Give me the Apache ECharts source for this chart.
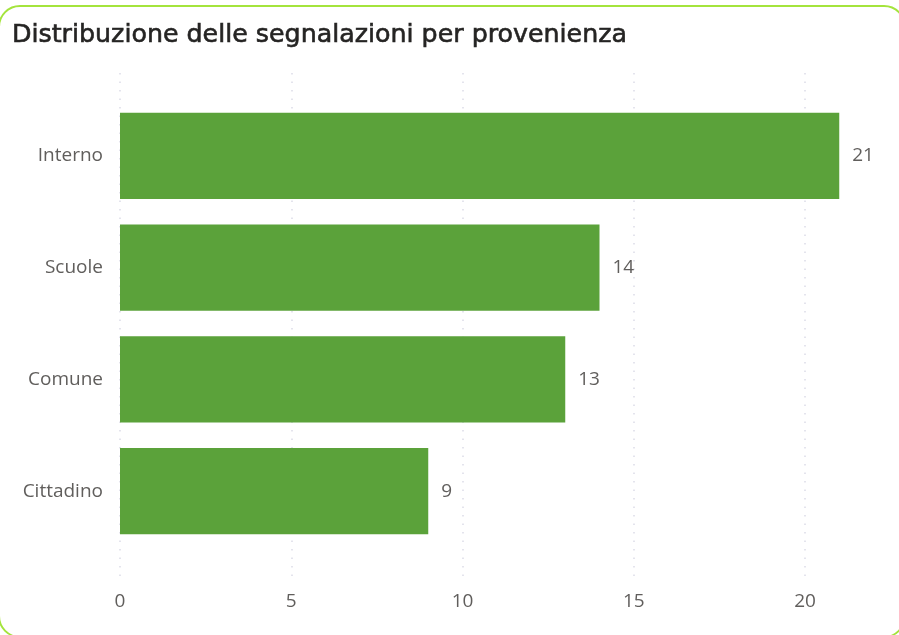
<!DOCTYPE html>
<html>
<head>
<meta charset="utf-8">
<script src="https://cdn.jsdelivr.net/npm/echarts@6/dist/echarts.min.js"></script>
<style>
html,body{margin:0;padding:0;width:899px;height:635px;overflow:hidden;background:#fff;}
#card{position:absolute;left:-2px;top:5px;width:904px;height:629px;border:2px solid #a4e43c;border-radius:22px;}
#chart{position:absolute;left:0;top:0;width:899px;height:635px;}
</style>
</head>
<body>
<div id="card"></div>
<div id="chart"></div>
<script>
const titleText = 'Distribuzione delle segnalazioni per provenienza';
const categories = ['Interno', 'Scuole', 'Comune', 'Cittadino'];
const values = [21, 14, 13, 9];
const barAxisMax = 22;
const tickMin = 0, tickMax = 20, tickInterval = 5;

const chart = echarts.init(document.getElementById('chart'), null, {renderer: 'canvas'});
const labelFont = "'Open Sans', 'Noto Sans', sans-serif";
chart.setOption({
  animation: false,
  title: {
    text: titleText,
    left: 7, top: 18,
    textStyle: {fontFamily: "'DejaVu Sans', sans-serif", fontSize: 25.3, fontWeight: 'normal', color: '#252423',
                textBorderColor: '#252423', textBorderWidth: 0.6}
  },
  grid: [
    {left: 120, right: 25.5, top: 100, bottom: 88},
    {left: 120, right: 94, top: 73, bottom: 53}
  ],
  xAxis: [
    {gridIndex: 0, type: 'value', min: tickMin, max: barAxisMax, show: false, splitLine: {show: false}},
    {gridIndex: 1, type: 'value', min: tickMin, max: tickMax, interval: tickInterval,
     axisLine: {show: false}, axisTick: {show: false},
     axisLabel: {margin: 10, color: '#605e5c', fontSize: 19, fontFamily: labelFont},
     splitLine: {show: true, lineStyle: {color: '#dcdce8', width: 1.5, type: [1.5, 7]}}}
  ],
  yAxis: [
    {gridIndex: 0, type: 'category', data: categories, inverse: true,
     axisLine: {show: false}, axisTick: {show: false},
     axisLabel: {margin: 17, color: '#605e5c', fontSize: 19, fontFamily: labelFont}},
    {gridIndex: 1, type: 'value', min: 0, max: 1, show: false}
  ],
  series: [{
    type: 'bar', xAxisIndex: 0, yAxisIndex: 0,
    data: values,
    barCategoryGap: '23%',
    itemStyle: {color: '#5ba23a'},
    label: {show: true, position: 'right', distance: 13, color: '#605e5c', fontSize: 19, fontFamily: labelFont}
  }]
});
</script>
</body>
</html>
